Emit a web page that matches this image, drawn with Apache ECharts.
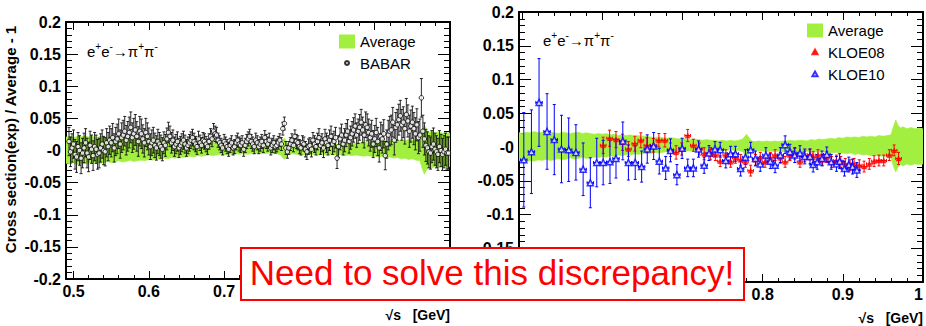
<!DOCTYPE html>
<html><head><meta charset="utf-8">
<script src="https://cdn.jsdelivr.net/npm/echarts@6/dist/echarts.min.js"></script>
<style>html,body{margin:0;padding:0;background:#fff}#c{width:926px;height:326px}</style>
</head><body><div id="c"></div>
<script>
// ---- data (x = sqrt(s) in GeV, y = cross section(exp)/average - 1) ----
// Average band: [x, lower, upper]
const averageBand = [
[0.490,-0.020,0.021],[0.495,-0.021,0.022],[0.500,-0.019,0.020],[0.505,-0.022,0.022],[0.510,-0.020,0.021],
[0.515,-0.021,0.023],[0.520,-0.019,0.021],[0.525,-0.020,0.022],[0.530,-0.018,0.020],[0.535,-0.020,0.022],
[0.540,-0.019,0.021],[0.545,-0.017,0.020],[0.550,-0.019,0.022],[0.555,-0.018,0.021],[0.560,-0.016,0.020],
[0.565,-0.018,0.021],[0.570,-0.017,0.022],[0.575,-0.015,0.020],[0.580,-0.017,0.021],[0.585,-0.016,0.020],
[0.590,-0.015,0.019],[0.595,-0.016,0.020],[0.600,-0.014,0.019],[0.605,-0.015,0.020],[0.610,-0.013,0.018],
[0.615,-0.014,0.019],[0.620,-0.012,0.017],[0.625,-0.013,0.018],[0.630,-0.011,0.017],[0.635,-0.012,0.018],
[0.640,-0.010,0.016],[0.645,-0.011,0.017],[0.650,-0.010,0.016],[0.655,-0.009,0.016],[0.660,-0.010,0.015],
[0.665,-0.008,0.014],[0.670,-0.009,0.015],[0.675,-0.008,0.014],[0.680,-0.007,0.013],[0.685,-0.008,0.014],
[0.690,-0.007,0.013],[0.695,-0.006,0.012],[0.700,-0.007,0.013],[0.705,-0.006,0.012],[0.710,-0.006,0.011],
[0.715,-0.005,0.012],[0.720,-0.006,0.011],[0.725,-0.005,0.010],[0.730,-0.006,0.011],[0.735,-0.005,0.010],
[0.740,-0.005,0.010],[0.745,-0.004,0.009],[0.750,-0.005,0.010],[0.755,-0.005,0.009],[0.760,-0.004,0.010],
[0.765,-0.005,0.009],[0.770,-0.005,0.010],[0.775,-0.007,0.012],[0.780,-0.014,0.019],[0.783,-0.010,0.014],
[0.786,-0.006,0.009],[0.790,-0.005,0.008],[0.795,-0.006,0.009],[0.800,-0.006,0.008],[0.805,-0.007,0.009],
[0.810,-0.006,0.008],[0.815,-0.007,0.009],[0.820,-0.006,0.008],[0.825,-0.007,0.009],[0.830,-0.006,0.009],
[0.835,-0.007,0.010],[0.840,-0.006,0.009],[0.845,-0.007,0.010],[0.850,-0.007,0.010],[0.855,-0.006,0.009],
[0.860,-0.008,0.011],[0.865,-0.007,0.010],[0.870,-0.008,0.012],[0.875,-0.007,0.011],[0.880,-0.008,0.012],
[0.885,-0.009,0.013],[0.890,-0.008,0.012],[0.895,-0.009,0.014],[0.900,-0.009,0.013],[0.905,-0.010,0.015],
[0.910,-0.009,0.014],[0.915,-0.011,0.015],[0.920,-0.010,0.014],[0.925,-0.012,0.016],[0.930,-0.011,0.015],
[0.935,-0.013,0.016],[0.940,-0.012,0.015],[0.945,-0.014,0.017],[0.950,-0.013,0.016],[0.955,-0.015,0.017],
[0.960,-0.016,0.018],[0.963,-0.028,0.030],[0.966,-0.037,0.040],[0.969,-0.030,0.032],[0.972,-0.026,0.028],
[0.975,-0.028,0.030],[0.980,-0.025,0.027],[0.985,-0.027,0.029],[0.990,-0.025,0.027],[0.995,-0.026,0.028],
[1.000,-0.025,0.027]
];
// BABAR: [x, y, error]
const babarPoints = [
[0.494,0.014,0.022],[0.496,-0.002,0.023],[0.498,0.004,0.022],[0.500,0.010,0.022],[0.502,-0.006,0.023],
[0.504,-0.010,0.024],[0.506,0.006,0.022],[0.508,0.000,0.023],[0.510,-0.012,0.024],[0.512,-0.004,0.023],
[0.514,0.004,0.023],[0.516,0.012,0.022],[0.518,-0.004,0.023],[0.520,-0.010,0.023],[0.522,0.008,0.022],
[0.524,0.002,0.022],[0.526,-0.008,0.023],[0.528,0.006,0.022],[0.530,0.002,0.022],[0.532,-0.006,0.023],
[0.534,-0.004,0.023],[0.536,0.004,0.022],[0.538,0.010,0.022],[0.540,0.000,0.022],[0.542,-0.002,0.022],
[0.544,0.012,0.022],[0.546,0.006,0.022],[0.548,0.016,0.022],[0.550,0.012,0.022],[0.552,0.020,0.022],
[0.554,0.004,0.022],[0.556,0.014,0.022],[0.558,0.018,0.023],[0.560,0.026,0.023],[0.562,0.010,0.022],
[0.564,0.020,0.023],[0.566,0.024,0.023],[0.568,0.030,0.023],[0.570,0.016,0.023],[0.572,0.022,0.023],
[0.574,0.028,0.024],[0.576,0.036,0.024],[0.578,0.020,0.023],[0.580,0.026,0.024],[0.582,0.032,0.024],
[0.584,0.022,0.023],[0.586,0.014,0.023],[0.588,0.030,0.023],[0.590,0.026,0.023],[0.592,0.018,0.022],
[0.594,0.012,0.022],[0.596,0.028,0.022],[0.598,0.022,0.021],[0.600,0.014,0.021],[0.602,0.006,0.020],
[0.604,0.012,0.020],[0.606,0.016,0.020],[0.608,0.008,0.019],[0.610,0.004,0.019],[0.612,0.014,0.019],
[0.614,0.010,0.018],[0.616,0.006,0.018],[0.618,0.002,0.018],[0.620,0.012,0.017],[0.622,0.008,0.017],
[0.624,0.018,0.017],[0.626,0.028,0.016],[0.628,0.022,0.016],[0.630,0.012,0.016],[0.632,0.016,0.016],
[0.634,0.006,0.015],[0.636,0.010,0.015],[0.638,0.014,0.015],[0.640,0.004,0.015],[0.642,0.008,0.014],
[0.644,0.012,0.014],[0.646,0.016,0.014],[0.648,0.010,0.014],[0.650,0.004,0.013],[0.652,0.008,0.013],
[0.654,0.012,0.013],[0.656,0.016,0.013],[0.658,0.020,0.013],[0.660,0.014,0.013],[0.662,0.010,0.012],
[0.664,0.006,0.012],[0.666,0.018,0.012],[0.668,0.012,0.012],[0.670,0.008,0.012],[0.672,0.016,0.012],
[0.674,0.014,0.012],[0.676,0.010,0.012],[0.678,0.006,0.012],[0.680,0.014,0.012],[0.682,0.022,0.012],
[0.684,0.018,0.012],[0.686,0.030,0.012],[0.688,0.026,0.012],[0.690,0.024,0.012],[0.692,0.016,0.011],
[0.694,0.012,0.011],[0.696,0.008,0.011],[0.698,0.004,0.011],[0.700,0.014,0.011],[0.702,0.010,0.011],
[0.704,0.006,0.011],[0.706,0.002,0.011],[0.708,0.008,0.011],[0.710,0.012,0.011],[0.712,0.004,0.011],
[0.714,0.006,0.011],[0.716,0.012,0.011],[0.718,0.016,0.011],[0.720,0.010,0.011],[0.722,0.008,0.011],
[0.724,0.012,0.011],[0.726,0.002,0.011],[0.728,0.008,0.011],[0.730,0.014,0.011],[0.732,0.018,0.011],
[0.734,0.022,0.011],[0.736,0.014,0.011],[0.738,0.010,0.011],[0.740,0.006,0.011],[0.742,0.016,0.011],
[0.744,0.012,0.011],[0.746,0.006,0.011],[0.748,0.010,0.011],[0.750,0.014,0.011],[0.752,0.008,0.011],
[0.754,0.020,0.011],[0.756,0.014,0.011],[0.758,0.010,0.011],[0.760,0.016,0.011],[0.762,0.004,0.011],
[0.764,0.008,0.011],[0.766,0.012,0.011],[0.768,0.006,0.010],[0.770,0.008,0.010],[0.772,0.012,0.010],
[0.774,0.016,0.010],[0.776,0.010,0.010],[0.778,0.034,0.010],[0.780,0.042,0.010],[0.782,0.004,0.010],
[0.784,-0.002,0.010],[0.786,0.004,0.010],[0.788,0.010,0.010],[0.790,0.016,0.010],[0.792,0.008,0.010],
[0.794,0.022,0.010],[0.796,0.014,0.011],[0.798,0.012,0.011],[0.800,0.006,0.011],[0.802,0.004,0.011],
[0.804,0.012,0.011],[0.806,0.010,0.011],[0.808,0.002,0.012],[0.810,-0.002,0.012],[0.812,0.006,0.012],
[0.814,0.008,0.012],[0.816,0.002,0.012],[0.818,0.016,0.012],[0.820,0.010,0.013],[0.822,0.006,0.013],
[0.824,0.014,0.013],[0.826,0.020,0.014],[0.828,0.008,0.014],[0.830,0.012,0.014],[0.832,0.004,0.015],
[0.834,0.018,0.015],[0.836,0.012,0.015],[0.838,0.008,0.015],[0.840,0.016,0.016],[0.842,0.022,0.016],
[0.844,0.010,0.016],[0.846,0.014,0.016],[0.848,0.020,0.016],[0.850,-0.012,0.016],[0.852,0.006,0.017],
[0.854,0.018,0.017],[0.856,0.024,0.017],[0.858,0.010,0.017],[0.860,0.016,0.018],[0.862,0.024,0.018],
[0.864,0.030,0.018],[0.866,0.014,0.018],[0.868,0.020,0.018],[0.870,0.026,0.019],[0.872,0.032,0.019],
[0.874,0.038,0.019],[0.876,0.024,0.019],[0.878,0.030,0.019],[0.880,0.036,0.020],[0.882,0.044,0.020],
[0.884,0.032,0.020],[0.886,0.024,0.020],[0.888,0.040,0.020],[0.890,0.036,0.021],[0.892,0.028,0.021],
[0.894,0.020,0.021],[0.896,0.026,0.021],[0.898,0.010,0.021],[0.900,0.018,0.021],[0.902,0.028,0.022],
[0.904,0.014,0.022],[0.906,0.004,0.022],[0.908,0.022,0.022],[0.910,0.018,0.022],[0.912,0.026,0.022],
[0.914,-0.008,0.022],[0.916,0.010,0.022],[0.918,0.024,0.023],[0.920,0.030,0.023],[0.922,0.032,0.023],
[0.924,0.044,0.023],[0.926,0.016,0.023],[0.928,0.036,0.023],[0.930,0.040,0.024],[0.932,0.048,0.024],
[0.934,0.054,0.024],[0.936,0.040,0.024],[0.938,0.044,0.024],[0.940,0.034,0.024],[0.942,0.056,0.025],
[0.944,0.046,0.025],[0.946,0.030,0.025],[0.948,0.038,0.025],[0.950,0.044,0.025],[0.952,0.034,0.025],
[0.954,0.026,0.025],[0.956,0.040,0.025],[0.958,0.020,0.025],[0.960,0.024,0.025],[0.962,0.082,0.030],
[0.964,0.030,0.025],[0.966,0.018,0.025],[0.968,0.008,0.025],[0.970,0.004,0.025],[0.972,-0.002,0.025],
[0.974,-0.004,0.025],[0.976,0.006,0.025],[0.978,0.010,0.025],[0.980,0.002,0.025],[0.982,-0.002,0.025],
[0.984,-0.006,0.025],[0.986,0.006,0.025],[0.988,0.000,0.025],[0.990,-0.006,0.025],[0.992,-0.002,0.025],
[0.994,0.002,0.025],[0.996,-0.004,0.025],[0.998,-0.004,0.025]
];
// KLOE08: [x, y, error]
const kloe08Points = [
[0.601,0.0025,0.012],[0.609,0.013,0.012],[0.617,0.011,0.012],[0.625,0.007,0.012],[0.6325,-0.003,0.011],
[0.6405,0.005,0.011],[0.648,0.010,0.011],[0.6555,0.0025,0.011],[0.6635,0.0025,0.010],[0.6705,0.010,0.010],
[0.678,0.010,0.010],[0.685,-0.004,0.010],[0.692,-0.008,0.010],[0.699,-0.003,0.009],[0.7065,0.017,0.009],
[0.7135,0.0025,0.009],[0.721,-0.003,0.009],[0.727,-0.010,0.009],[0.735,-0.010,0.009],[0.741,-0.012,0.008],
[0.747,-0.021,0.008],[0.754,-0.012,0.008],[0.760,-0.022,0.008],[0.766,-0.016,0.008],[0.7725,-0.019,0.008],
[0.7785,-0.022,0.008],[0.785,-0.035,0.008],[0.791,-0.019,0.008],[0.797,-0.016,0.008],[0.803,-0.022,0.008],
[0.8095,-0.016,0.008],[0.8155,-0.012,0.008],[0.822,-0.016,0.008],[0.828,-0.022,0.008],[0.834,-0.012,0.008],
[0.840,-0.010,0.008],[0.8465,-0.022,0.008],[0.8525,-0.014,0.008],[0.859,-0.011,0.008],[0.863,-0.015,0.008],
[0.869,-0.012,0.008],[0.8745,-0.019,0.008],[0.880,-0.015,0.008],[0.886,-0.022,0.008],[0.892,-0.020,0.008],
[0.8975,-0.022,0.008],[0.903,-0.025,0.008],[0.909,-0.027,0.008],[0.914,-0.025,0.008],[0.9205,-0.027,0.008],
[0.9265,-0.029,0.008],[0.933,-0.025,0.008],[0.939,-0.021,0.008],[0.945,-0.020,0.008],[0.951,-0.020,0.008],
[0.958,-0.012,0.008],[0.964,-0.005,0.008],[0.9695,-0.017,0.009]
];
// KLOE10: [x, y, error]
const kloe10Points = [
[0.502,-0.019,0.070],[0.5115,-0.007,0.062],[0.521,0.066,0.065],[0.531,0.023,0.056],[0.540,0.011,0.052],
[0.549,-0.003,0.050],[0.558,-0.004,0.047],[0.567,-0.008,0.041],[0.576,-0.033,0.039],[0.585,-0.053,0.037],
[0.593,-0.023,0.036],[0.601,-0.023,0.033],[0.6095,-0.022,0.032],[0.617,-0.017,0.029],[0.6255,0.009,0.028],
[0.6325,-0.023,0.026],[0.641,-0.023,0.025],[0.649,-0.029,0.023],[0.656,-0.003,0.021],[0.664,0.0015,0.020],
[0.671,-0.021,0.019],[0.679,-0.031,0.017],[0.685,-0.005,0.017],[0.693,-0.041,0.015],[0.6995,-0.002,0.015],
[0.7065,-0.031,0.013],[0.7135,-0.031,0.013],[0.720,-0.003,0.012],[0.727,-0.027,0.012],[0.733,-0.009,0.011],
[0.7405,-0.003,0.011],[0.747,-0.004,0.011],[0.754,-0.020,0.011],[0.760,-0.010,0.011],[0.766,-0.010,0.011],
[0.7725,-0.032,0.011],[0.7785,-0.015,0.011],[0.785,-0.004,0.011],[0.791,-0.017,0.011],[0.797,-0.025,0.011],
[0.804,-0.012,0.011],[0.8095,-0.021,0.011],[0.8155,-0.027,0.011],[0.822,-0.012,0.011],[0.828,0.0035,0.013],
[0.834,-0.007,0.011],[0.840,-0.012,0.011],[0.8465,-0.009,0.011],[0.8525,-0.014,0.011],[0.859,-0.014,0.011],
[0.863,-0.026,0.011],[0.868,-0.022,0.011],[0.874,-0.017,0.011],[0.880,-0.011,0.011],[0.8855,-0.022,0.011],
[0.892,-0.025,0.011],[0.896,-0.021,0.011],[0.902,-0.032,0.011],[0.9075,-0.026,0.011],[0.912,-0.029,0.011],
[0.9175,-0.034,0.011]
];
const leftRange = [0.49, 1.0];
const rightRange = [0.496, 1.0];
const yRange = [-0.2, 0.2];
// tick labels that are not hidden under the annotation box
const leftXLabels = ['0.5', '0.6', '0.7'];
const rightXLabels = ['0.8', '0.9', '1'];
const leftYLabels = ['0.2', '0.15', '0.1', '0.05', '-0', '-0.05', '-0.1', '-0.15', '-0.2'];
const rightYLabels = ['0.2', '0.15', '0.1', '0.05', '-0', '-0.05', '-0.1', '-0.15'];
const yTitle = 'Cross section(exp) / Average - 1';
const xTitle = '\u221As\u00A0\u00A0\u00A0[GeV]';
const reactionText = '{n|e}{s|+}{n|e}{s|-}{n|\u2192\u03C0}{s|+}{n|\u03C0}{s|-}';
const noteText = 'Need to solve this discrepancy!';

// ---- styling ----
const GREEN = '#a3ef40';
const FONT = '"Liberation Sans", Arial, Helvetica, sans-serif';

const chart = echarts.init(document.getElementById('c'), null, {renderer: 'svg'});

function xFmt(v) { const t = v * 10; return Math.abs(t - Math.round(t)) > 1e-6 ? '' : String(Math.round(t) / 10); }
function yFmt(v) { const r = Math.round(v * 100) / 100; return r === 0 ? '-0' : String(r); }

function xAxisCfg(grid, range, pos, shown, withName) {
  return {
    type: 'value', gridIndex: grid, min: range[0], max: range[1], splitNumber: 5, position: pos,
    axisLine: {show: true, onZero: false, lineStyle: {color: '#000', width: 2}},
    axisTick: {show: true, inside: true, length: 8, lineStyle: {color: '#000', width: 1}},
    minorTick: {show: true, splitNumber: 5, length: 4, lineStyle: {color: '#000', width: 1}},
    splitLine: {show: false},
    axisLabel: {show: !!shown, showMaxLabel: true, alignMaxLabel: 'right', color: '#000', fontFamily: FONT, fontWeight: 'bold', fontSize: 16, margin: 4,
      formatter: v => { const s = xFmt(v); return shown && shown.indexOf(s) >= 0 ? s : ''; }},
    name: withName ? xTitle : '', nameLocation: 'end', nameGap: 0,
    nameTextStyle: {color: '#000', fontFamily: FONT, fontWeight: 'bold', fontSize: 14, align: 'right', verticalAlign: 'top', padding: [29, 0, 0, 0]}
  };
}
function yAxisCfg(grid, pos, shown, withName) {
  return {
    type: 'value', gridIndex: grid, min: yRange[0], max: yRange[1], interval: 0.05, position: pos,
    axisLine: {show: true, onZero: false, lineStyle: {color: '#000', width: 2}},
    axisTick: {show: true, inside: true, length: 12, lineStyle: {color: '#000', width: 1}},
    minorTick: {show: true, splitNumber: 5, length: 6, lineStyle: {color: '#000', width: 1}},
    splitLine: {show: false},
    axisLabel: {show: !!shown, color: '#000', fontFamily: FONT, fontWeight: 'bold', fontSize: 16, margin: 5,
      formatter: v => { const s = yFmt(v); return shown && shown.indexOf(s) >= 0 ? s : ''; }},
    name: withName ? yTitle : '', nameLocation: 'middle', nameRotate: 90, nameGap: 48,
    nameTextStyle: {color: '#000', fontFamily: FONT, fontWeight: 'bold', fontSize: 15, padding: [0, 0, 0, 22]}
  };
}

function bandSeries(xa, ya) {
  return {
    type: 'custom', name: 'Average', xAxisIndex: xa, yAxisIndex: ya, clip: true, silent: true, z: 1,
    itemStyle: {color: GREEN},
    data: averageBand.map(d => [d[0], d[1], d[2]]),
    encode: {x: 0, y: 1},
    renderItem: (params, api) => {
      if (params.dataIndex !== 0) return null;
      const up = averageBand.map(d => api.coord([d[0], d[2]]));
      const lo = averageBand.map(d => api.coord([d[0], d[1]])).reverse();
      return {type: 'polygon', shape: {points: up.concat(lo)}, style: {fill: GREEN, stroke: GREEN, lineWidth: 0.6}};
    }
  };
}
function errSeries(id, pts, color, xa, ya, cap, bin, width) {
  return {
    type: 'custom', name: id + '_err', xAxisIndex: xa, yAxisIndex: ya, clip: true, silent: true, z: 3,
    data: pts.map(p => [p[0], p[1], p[2]]),
    encode: {x: 0, y: 1},
    renderItem: (params, api) => {
      const x = api.value(0), y = api.value(1), e = api.value(2);
      const c = api.coord([x, y]), t = api.coord([x, y + e]), b = api.coord([x, y - e]);
      const st = {stroke: color, lineWidth: width};
      const ch = [
        {type: 'line', shape: {x1: c[0], y1: t[1], x2: c[0], y2: b[1]}, style: st},
        {type: 'line', shape: {x1: c[0] - cap, y1: t[1], x2: c[0] + cap, y2: t[1]}, style: st},
        {type: 'line', shape: {x1: c[0] - cap, y1: b[1], x2: c[0] + cap, y2: b[1]}, style: st}
      ];
      if (bin) {
        const l = api.coord([x - bin, y]), r = api.coord([x + bin, y]);
        ch.push({type: 'line', shape: {x1: l[0], y1: c[1], x2: r[0], y2: c[1]}, style: st});
        ch.push({type: 'line', shape: {x1: l[0], y1: c[1] - 1.5, x2: l[0], y2: c[1] + 1.5}, style: st});
        ch.push({type: 'line', shape: {x1: r[0], y1: c[1] - 1.5, x2: r[0], y2: c[1] + 1.5}, style: st});
      }
      return {type: 'group', children: ch};
    }
  };
}

const circleIcon = 'path://M0,0M16,14M10,7L9.41,8.41L8,9L6.59,8.41L6,7L6.59,5.59L8,5L9.41,5.59Z';
const triIcon = 'path://M0,0M16,14M8,4.6L10.6,9.2L5.4,9.2Z';
const reactionRich = {
  n: {fontSize: 15, lineHeight: 18, verticalAlign: 'bottom', fill: '#000', fontFamily: FONT},
  s: {fontSize: 10, lineHeight: 10, verticalAlign: 'top', fill: '#000', fontFamily: FONT}
};

const option = {
  animation: false,
  textStyle: {fontFamily: FONT},
  grid: [
    {left: 66, top: 22, width: 384, height: 257, outerBoundsMode: 'none'},
    {left: 519, top: 12, width: 404, height: 270, outerBoundsMode: 'none'}
  ],
  xAxis: [
    xAxisCfg(0, leftRange, 'bottom', leftXLabels, true), xAxisCfg(0, leftRange, 'top', null, false),
    xAxisCfg(1, rightRange, 'bottom', rightXLabels, true), xAxisCfg(1, rightRange, 'top', null, false)
  ],
  yAxis: [
    yAxisCfg(0, 'left', leftYLabels, true), yAxisCfg(0, 'right', null, false),
    yAxisCfg(1, 'left', rightYLabels, false), yAxisCfg(1, 'right', null, false)
  ],
  legend: [
    {orient: 'vertical', left: 338, top: 34, padding: 0, itemWidth: 16, itemHeight: 14, itemGap: 6, selectedMode: false,
      textStyle: {fontSize: 15, color: '#000', fontFamily: FONT},
      data: [{name: 'Average', icon: 'rect'}, {name: 'BABAR', icon: circleIcon}]},
    {orient: 'vertical', left: 806, top: 23, padding: 0, itemWidth: 16, itemHeight: 14, itemGap: 6, selectedMode: false,
      textStyle: {fontSize: 15, color: '#000', fontFamily: FONT},
      data: [{name: 'Average', icon: 'rect'}, {name: 'KLOE08', icon: triIcon}, {name: 'KLOE10', icon: triIcon}]}
  ],
  series: [
    bandSeries(0, 0),
    errSeries('BABAR', babarPoints, '#111', 0, 0, 1.5, 0, 0.9),
    {type: 'scatter', name: 'BABAR', xAxisIndex: 0, yAxisIndex: 0, symbol: 'circle', symbolSize: 4.5, z: 4, silent: true,
      itemStyle: {color: '#fff', borderColor: '#000', borderWidth: 1}, data: babarPoints.map(p => [p[0], p[1]])},
    bandSeries(2, 2),
    errSeries('KLOE08', kloe08Points, '#ff0000', 2, 2, 1.5, 0.0035, 1),
    {type: 'scatter', name: 'KLOE08', xAxisIndex: 2, yAxisIndex: 2, symbol: 'triangle', symbolSize: 5, z: 4, silent: true,
      itemStyle: {color: '#ff0000', borderColor: '#ff0000', borderWidth: 0.5}, data: kloe08Points.map(p => [p[0], p[1]])},
    errSeries('KLOE10', kloe10Points, '#0000ff', 2, 2, 1.5, 0.004, 1),
    {type: 'scatter', name: 'KLOE10', xAxisIndex: 2, yAxisIndex: 2, symbol: 'triangle', symbolSize: 6, z: 5, silent: true,
      itemStyle: {color: '#ffffff', borderColor: '#0000ff', borderWidth: 1.5}, data: kloe10Points.map(p => [p[0], p[1]])}
  ],
  graphic: [
    {type: 'text', left: 87, top: 41, z: 50, style: {text: reactionText, rich: reactionRich}},
    {type: 'text', left: 543, top: 30, z: 50, style: {text: reactionText, rich: reactionRich}},
    {type: 'rect', z: 100, shape: {x: 241, y: 248, width: 503, height: 52}, style: {fill: '#fff', stroke: '#ff0000', lineWidth: 2}},
    {type: 'text', z: 101, x: 492, y: 272, style: {text: noteText, fill: '#ff0000', fontSize: 35, fontFamily: FONT,
      align: 'center', verticalAlign: 'middle', textAlign: 'center', textVerticalAlign: 'middle'}}
  ]
};
chart.setOption(option);
</script></body></html>
